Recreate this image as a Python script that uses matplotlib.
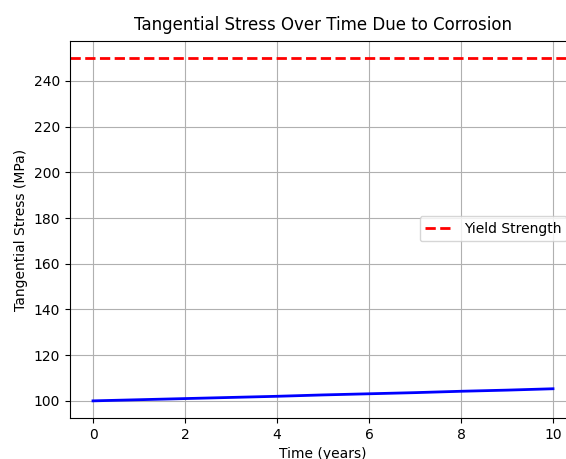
import matplotlib
matplotlib.use("Agg")
import matplotlib.pyplot as plt

years = [0, 1, 2, 3, 4, 5, 6, 7, 8, 9, 10]
stress = [100.0, 100.5, 101.0, 101.5, 102.0, 102.6, 103.1, 103.6, 104.2, 104.7, 105.3]
yield_strength = 250

fig = plt.figure(figsize=(5.66, 4.59), dpi=100)
ax = fig.add_axes([70/566, 41/459, 506/566, 377/459])
ax.plot(years, stress, color='blue', linewidth=2)
ax.axhline(yield_strength, color='red', linestyle='--', linewidth=2, label='Yield Strength')
ax.set_title('Tangential Stress Over Time Due to Corrosion', pad=8)
ax.set_xlabel('Time (years)')
ax.set_ylabel('Tangential Stress (MPa)')
ax.grid(True)
ax.legend(loc='center right', bbox_to_anchor=(0.996, 0.502))
fig.savefig('out.png', dpi=100)
